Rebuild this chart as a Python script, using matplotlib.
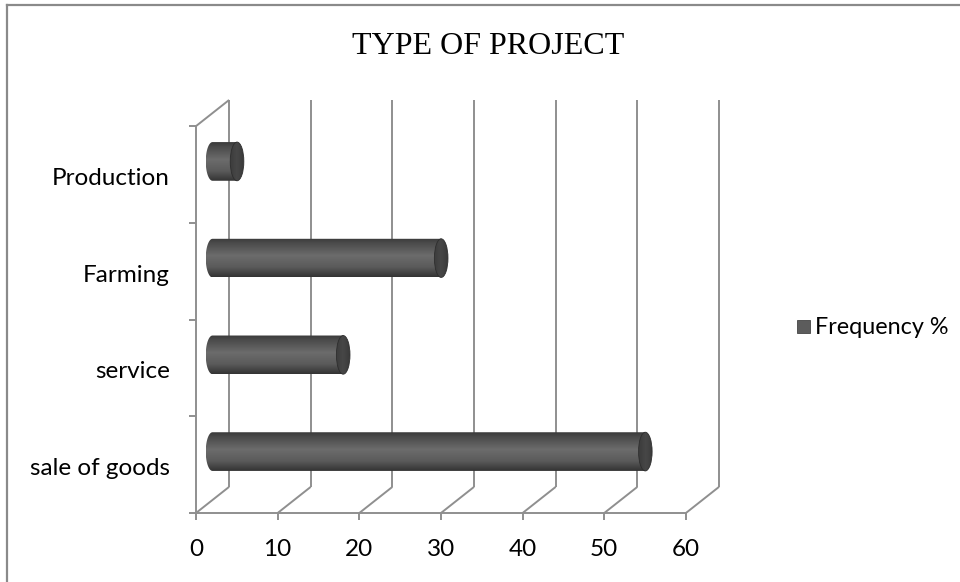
import numpy as np
import matplotlib
matplotlib.use("Agg")
import matplotlib.pyplot as plt
from matplotlib.path import Path
from matplotlib.patches import PathPatch, Ellipse, Rectangle
from matplotlib.lines import Line2D
from matplotlib.colors import LinearSegmentedColormap

# ---- data ----
categories = ["sale of goods", "service", "Farming", "Production"]
frequency_pct = [53, 16, 28, 3]
x_ticks = [0, 10, 20, 30, 40, 50, 60]
title = "TYPE OF PROJECT"
series_name = "Frequency %"

# ---- style ----
W, H, DPI = 960, 582, 100
grid_col = "#8f8f8f"
grid_lw = 1.4
label_font = ["Lato", "DejaVu Sans"]
title_font = ["Liberation Serif", "DejaVu Serif"]
label_size = 17.5

fig = plt.figure(figsize=(W / DPI, H / DPI), dpi=DPI)
fig.patch.set_facecolor("white")

# plot box in pixel units (front floor origin -> back top-right corner)
px_left, px_right, px_bottom, px_top = 196, 719, 513, 100
ax = fig.add_axes([px_left / W, 1 - px_bottom / H,
                   (px_right - px_left) / W, (px_bottom - px_top) / H])
ax.set_axis_off()

xmax = x_ticks[-1]
ncat = len(categories)
depth_x = 4.05   # depth offset along the value axis (data units)
depth_y = 0.27   # depth offset along the category axis (data units)
ax.set_xlim(0, xmax + depth_x)
ax.set_ylim(0, ncat + depth_y)

def line(xs, ys, **kw):
    ax.add_line(Line2D(xs, ys, color=grid_col, lw=grid_lw, clip_on=False,
                       solid_capstyle="butt", **kw))

# back wall gridlines and floor diagonals
for v in x_ticks:
    line([v + depth_x, v + depth_x], [depth_y, ncat + depth_y])
    line([v, v + depth_x], [0, depth_y])
# left wall top edge and front axes
line([0, depth_x], [ncat, ncat + depth_y])
line([0, 0], [0, ncat])
line([0, xmax], [0, 0])

# tick marks
px_per_x = (px_right - px_left) / (xmax + depth_x)
px_per_y = (px_bottom - px_top) / (ncat + depth_y)
tick_len_y = 7 / px_per_y
tick_len_x = 7 / px_per_x
for v in x_ticks:
    line([v, v], [0, -tick_len_y])
for i in range(ncat + 1):
    line([0, -tick_len_x], [i, i])

# tick labels
for v in x_ticks:
    ax.annotate(str(v), (v, 0), xytext=(0, -37), textcoords="offset pixels",
                ha="center", va="center", fontsize=label_size, family=label_font,
                color="#000000", annotation_clip=False)
for i, c in enumerate(categories):
    ax.annotate(c, (0, i + 0.5), xytext=(-26, -4), textcoords="offset pixels",
                ha="right", va="center", fontsize=label_size, family=label_font,
                color="#000000", annotation_clip=False)

# cylinders
body_cmap = LinearSegmentedColormap.from_list(
    "body", [(0.0, "#3a3a3a"), (0.12, "#4a4a4a"), (0.45, "#6c6c6c"),
             (0.75, "#5a5a5a"), (1.0, "#333333")])
cap_cmap = LinearSegmentedColormap.from_list(
    "cap", [(0.0, "#3c3c3c"), (0.5, "#474747"), (1.0, "#3a3a3a")])
half_h = 0.2
cap_a = 6.8 / px_per_x
grad = np.linspace(0, 1, 256).reshape(-1, 1)

for i, v in enumerate(frequency_pct):
    yc = i + 0.5 + depth_y / 2
    x0 = depth_x / 2
    x1 = v + depth_x / 2
    t = np.linspace(np.pi / 2, 3 * np.pi / 2, 60)
    left_arc = np.column_stack([x0 + cap_a * np.cos(t), yc + half_h * np.sin(t)])
    verts = np.vstack([[[x1, yc + half_h]], left_arc, [[x1, yc - half_h]],
                       [[x1, yc + half_h]]])
    body = PathPatch(Path(verts, closed=True), facecolor="none",
                     edgecolor="none", transform=ax.transData)
    ax.add_patch(body)
    im = ax.imshow(grad, cmap=body_cmap, aspect="auto", origin="upper",
                   extent=[x0 - cap_a, x1, yc - half_h, yc + half_h],
                   interpolation="bilinear", zorder=3)
    im.set_clip_path(body)
    cap = Ellipse((x1, yc), 2 * cap_a, 2 * half_h, facecolor="none",
                  edgecolor="none", transform=ax.transData)
    ax.add_patch(cap)
    imc = ax.imshow(grad.T, cmap=cap_cmap, aspect="auto", origin="upper",
                    extent=[x1 - cap_a, x1 + cap_a, yc - half_h, yc + half_h],
                    interpolation="bilinear", zorder=4)
    imc.set_clip_path(cap)
    ax.add_patch(Ellipse((x1, yc), 2 * cap_a, 2 * half_h, facecolor="none",
                         edgecolor="#2e2e2e", lw=0.6, zorder=5))

ax.set_xlim(0, xmax + depth_x)
ax.set_ylim(0, ncat + depth_y)

# title
fig.text(488 / W, 1 - 46 / H, title, ha="center", va="center",
         fontsize=23, family=title_font, color="#000000")

# legend
fig.patches.append(Rectangle((797 / W, 1 - 333 / H), 13 / W, 13 / H,
                             transform=fig.transFigure, facecolor="#5c5c5c",
                             edgecolor="#444444", lw=0.6))
fig.text(815 / W, 1 - 327 / H, series_name, ha="left", va="center",
         fontsize=16.8, family=label_font, color="#000000")

# chart area border
fig.add_artist(Line2D([7 / W, 1.0], [1 - 5 / H, 1 - 5 / H],
                      transform=fig.transFigure, color="#8a8a8a", lw=1.6))
fig.add_artist(Line2D([7 / W, 7 / W], [0.0, 1 - 5 / H],
                      transform=fig.transFigure, color="#8a8a8a", lw=1.6))

fig.savefig("out.png", dpi=DPI, facecolor="white")
